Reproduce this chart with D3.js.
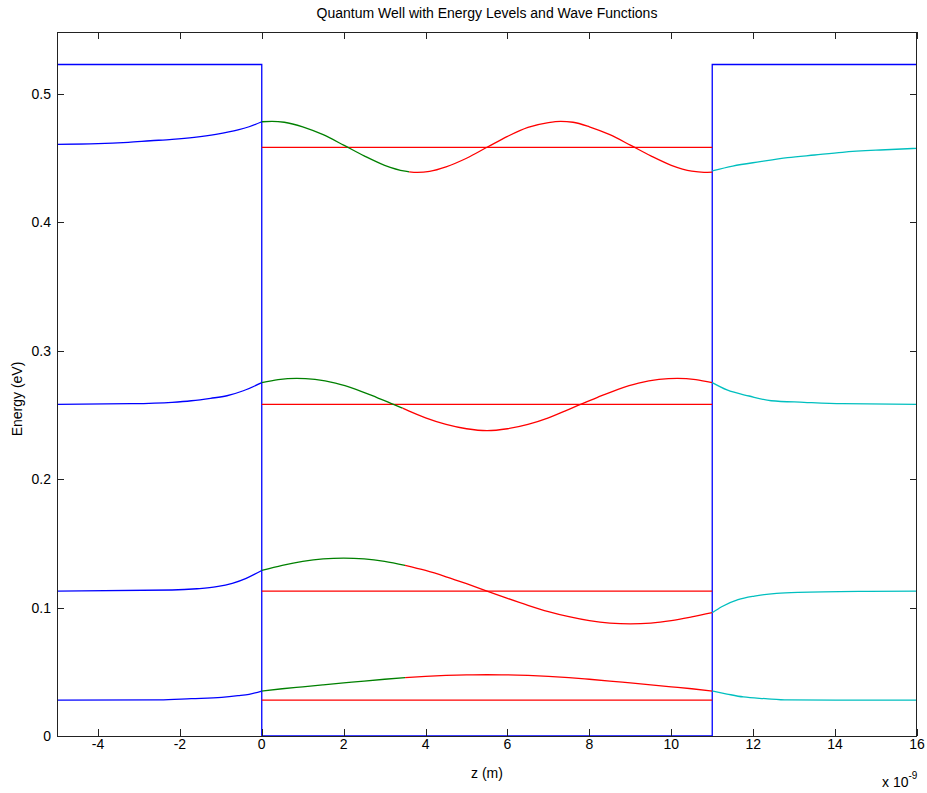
<!DOCTYPE html>
<html>
<head>
<meta charset="utf-8">
<script src="https://cdn.jsdelivr.net/npm/d3@7/dist/d3.min.js"></script>
<style>
  html, body { margin: 0; padding: 0; background: #fff; }
  svg text { font-family: "Liberation Sans Narrow", "Liberation Sans", Arial, sans-serif; fill: #000; }
</style>
</head>
<body>
<svg id="chart" width="927" height="793"></svg>
<script>
// ---------------- data (z in nm, energy in eV) ----------------
const xTicks = [-4, -2, 0, 2, 4, 6, 8, 10, 12, 14, 16];
const yTicks = [0, 0.1, 0.2, 0.3, 0.4, 0.5];
const wellWidth = 11;
const barrierHeight = 0.523;
const energyLevels = [0.0280, 0.1129, 0.2583, 0.4585];

// Level 1
const psi1Left  = [[-5,0.0280],[-2.5,0.0281],[-1.72,0.0291],[-0.98,0.0301],[-0.58,0.0314],[-0.31,0.0325],[0,0.0350]];
const psi1Green = [[0,0.0350],[0.5,0.0368],[1.0,0.0383],[1.5,0.0398],[2.0,0.0413],[2.5,0.0428],[3.0,0.0442],[3.5,0.0455]];
const psi1Red   = [[3.5,0.0455],[4.0,0.0465],[4.5,0.0472],[5.0,0.0476],[5.5,0.0477],[6.0,0.0476],[6.5,0.0472],[7.0,0.0465],[7.5,0.0455],[8.0,0.0442],[8.5,0.0428],[9.0,0.0413],[9.5,0.0398],[10.0,0.0383],[10.5,0.0368],[11,0.0350]];
const psi1Right = [[11,0.0350],[11.36,0.0327],[11.76,0.0304],[12.3,0.0291],[12.84,0.0281],[14,0.0280],[16,0.0280]];

// Level 2
const psi2Left  = [[-5,0.1129],[-2.19,0.1137],[-1.58,0.1147],[-1.1,0.1163],[-0.72,0.1189],[-0.38,0.1228],[0,0.1289]];
const psi2Green = [[0,0.1289],[0.5,0.1329],[1.0,0.1360],[1.5,0.1379],[2.0,0.1385],[2.5,0.1379],[3.0,0.1360],[3.5,0.1329]];
const psi2Red   = [[3.5,0.1329],[4.0,0.1289],[4.5,0.1240],[5.0,0.1186],[5.5,0.1129],[6.0,0.1072],[6.5,0.1018],[7.0,0.0969],[7.5,0.0929],[8.0,0.0898],[8.5,0.0879],[9.0,0.0873],[9.5,0.0879],[10.0,0.0898],[10.5,0.0927],[11,0.0960]];
const psi2Right = [[11,0.0960],[11.23,0.1007],[11.63,0.1062],[12.03,0.1090],[12.57,0.1111],[13.1,0.1119],[14.8,0.1127],[16,0.1129]];

// Level 3
const psi3Left  = [[-5,0.2583],[-3.19,0.2588],[-2.19,0.2599],[-1.72,0.2611],[-1.25,0.2630],[-0.85,0.2650],[-0.45,0.2689],[0,0.2752]];
const psi3Green = [[0,0.2752],[0.4,0.2776],[0.85,0.2786],[1.3,0.2777],[1.8,0.2748],[2.3,0.2700],[2.8,0.2638],[3.2,0.2585],[3.44,0.2553]];
const psi3Red   = [[3.44,0.2553],[3.6,0.2530],[4.0,0.2478],[4.5,0.2427],[5.0,0.2393],[5.5,0.2378],[6.0,0.2393],[6.5,0.2427],[7.0,0.2478],[7.4,0.2530],[7.8,0.2585],[8.2,0.2638],[8.7,0.2700],[9.2,0.2748],[9.7,0.2777],[10.15,0.2786],[10.6,0.2776],[11,0.2752]];
const psi3Right = [[11,0.2752],[11.36,0.2695],[11.9,0.2648],[12.44,0.2611],[13.24,0.2599],[14.18,0.2588],[16,0.2583]];

// Level 4
const psi4Left  = [[-5,0.4608],[-4,0.4613],[-3.26,0.4624],[-2.72,0.4636],[-2.19,0.4647],[-1.65,0.4663],[-1.12,0.4686],[-0.58,0.4720],[-0.31,0.4745],[0,0.4784]];
const psi4Green = [[0,0.4784],[0.25,0.4787],[0.55,0.4780],[1.0,0.4745],[1.5,0.4683],[2.0,0.4602],[2.5,0.4518],[3.0,0.4445],[3.5,0.4399],[3.6,0.4394]];
const psi4Red   = [[3.6,0.4394],[3.8,0.4390],[4.1,0.4398],[4.5,0.4433],[5.0,0.4500],[5.5,0.4585],[6.0,0.4670],[6.5,0.4740],[7.0,0.4778],[7.3,0.4787],[7.6,0.4780],[8.0,0.4745],[8.5,0.4683],[9.0,0.4602],[9.5,0.4518],[10.0,0.4445],[10.5,0.4399],[10.8,0.4390],[11,0.4392]];
const psi4Right = [[11,0.4402],[11.5,0.4439],[12.17,0.4473],[12.84,0.4504],[13.5,0.4525],[14.18,0.4546],[15.1,0.4564],[16,0.4577]];

const leftParts  = [psi1Left, psi2Left, psi3Left, psi4Left];
const greenParts = [psi1Green, psi2Green, psi3Green, psi4Green];
const redParts   = [psi1Red, psi2Red, psi3Red, psi4Red];
const rightParts = [psi1Right, psi2Right, psi3Right, psi4Right];

// ---------------- layout ----------------
const svg = d3.select("#chart");
const L = 57, R = 917, T = 32, B = 736;
const x = d3.scaleLinear().domain([-5, 16]).range([L, R]);
const y = d3.scaleLinear().domain([0, 0.5483]).range([B, T]);

const colors = { blue: "#0000ff", green: "#008000", red: "#ff0000", cyan: "#00bfbf" };

const line = d3.line().x(d => x(d[0])).y(d => y(d[1])).curve(d3.curveMonotoneX);
const plot = svg.append("g");

// potential well profile
const wellProfile = [[-5, barrierHeight], [0, barrierHeight], [0, 0], [wellWidth, 0], [wellWidth, barrierHeight], [16, barrierHeight]];
plot.append("path").datum(wellProfile)
  .attr("d", d3.line().x(d => x(d[0])).y(d => y(d[1])))
  .attr("fill", "none").attr("stroke", colors.blue).attr("stroke-width", 1.3);

// energy levels
plot.selectAll("line.level").data(energyLevels).enter().append("line")
  .attr("x1", x(0)).attr("x2", x(wellWidth))
  .attr("y1", d => y(d)).attr("y2", d => y(d))
  .attr("stroke", colors.red).attr("stroke-width", 1.3);

function drawParts(parts, color) {
  plot.selectAll(null).data(parts).enter().append("path")
    .attr("d", line).attr("fill", "none")
    .attr("stroke", color).attr("stroke-width", 1.3);
}
drawParts(leftParts, colors.blue);
drawParts(greenParts, colors.green);
drawParts(redParts, colors.red);
drawParts(rightParts, colors.cyan);

// axis frame
const axG = svg.append("g");
axG.append("rect").attr("x", L + 0.5).attr("y", T + 0.5).attr("width", R - L - 1).attr("height", B - T)
  .attr("fill", "none").attr("stroke", "#222").attr("stroke-width", 1);

const tickLen = 7;
xTicks.forEach(t => {
  const px = Math.round(x(t)) + 0.5;
  axG.append("line").attr("x1", px).attr("x2", px).attr("y1", B).attr("y2", B - tickLen).attr("stroke", "#222");
  axG.append("line").attr("x1", px).attr("x2", px).attr("y1", T).attr("y2", T + tickLen).attr("stroke", "#222");
  axG.append("text").attr("x", x(t)).attr("y", B + 13).attr("text-anchor", "middle")
    .attr("font-size", 14).text(String(t));
});
yTicks.forEach(t => {
  const py = Math.round(y(t)) + 0.5;
  axG.append("line").attr("x1", L).attr("x2", L + tickLen).attr("y1", py).attr("y2", py).attr("stroke", "#222");
  axG.append("line").attr("x1", R).attr("x2", R - tickLen).attr("y1", py).attr("y2", py).attr("stroke", "#222");
  axG.append("text").attr("x", L - 6).attr("y", y(t) + 5).attr("text-anchor", "end")
    .attr("font-size", 14).text(String(t));
});

// title and labels
svg.append("text").attr("x", (L + R) / 2).attr("y", 18).attr("text-anchor", "middle")
  .attr("font-size", 14).text("Quantum Well with Energy Levels and Wave Functions");
svg.append("text").attr("x", (L + R) / 2).attr("y", 778).attr("text-anchor", "middle")
  .attr("font-size", 14).text("z (m)");
svg.append("text").attr("transform", `translate(22, 399) rotate(-90)`)
  .attr("text-anchor", "middle").attr("font-size", 14).text("Energy (eV)");
const ex = svg.append("text").attr("x", 882).attr("y", 787).attr("font-size", 14);
ex.append("tspan").text("x 10");
ex.append("tspan").attr("dy", -8).attr("font-size", 10).text("-9");
</script>
</body>
</html>
